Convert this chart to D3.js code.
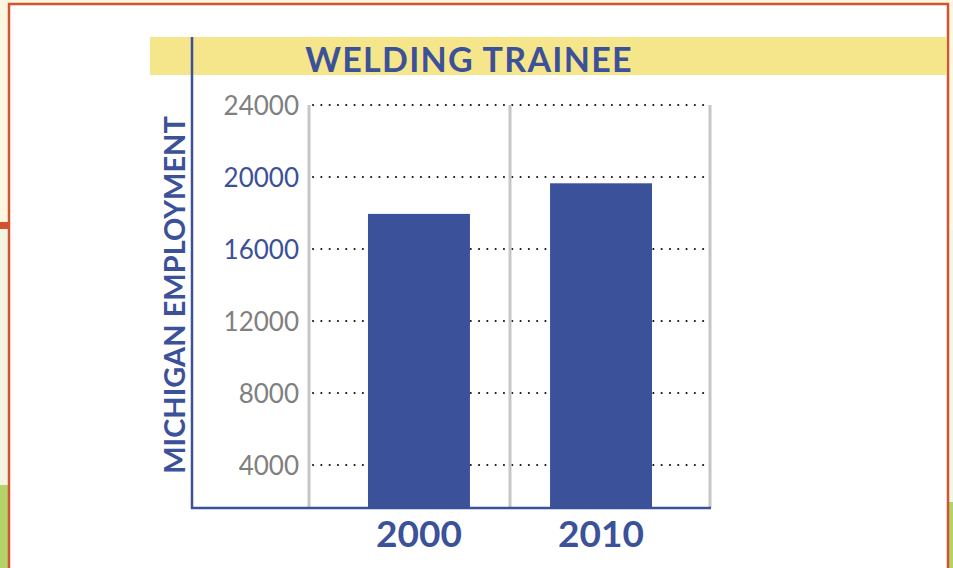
<!DOCTYPE html>
<html>
<head>
<meta charset="utf-8">
<script src="https://cdn.jsdelivr.net/npm/d3@7"></script>
<style>
  body { margin: 0; background: #fdf6e0; }
  svg { display: block; font-family: Lato, 'Open Sans', sans-serif; }
</style>
</head>
<body>
<div id="chart"></div>
<script>
(function () {
    'use strict';

    // data
    const years = ['2000', '2010'];
    const employment = [17950, 19650];
    const tickValues = [4000, 8000, 12000, 16000, 20000, 24000];
    const blueTicks = [16000, 20000];
    const chartTitle = 'WELDING TRAINEE';
    const yTitle = 'MICHIGAN EMPLOYMENT';

    const W = 953, H = 568;
    const BLUE = '#3b5199';
    const axisY = 508;

    const svg = d3.select('#chart').append('svg')
        .attr('width', W).attr('height', H);

    // page decorations behind the frame
    svg.append('rect').attr('x', 0).attr('y', 0).attr('width', W).attr('height', H).attr('fill', '#fdf6e0');
    svg.append('rect').attr('x', 0).attr('y', 229).attr('width', 9).attr('height', 256).attr('fill', '#f2f5e2');
    svg.append('rect').attr('x', 0).attr('y', 485).attr('width', 9).attr('height', 83).attr('fill', '#b4d46a');
    svg.append('rect').attr('x', 0).attr('y', 222).attr('width', 9).attr('height', 7).attr('fill', '#d2532f');
    svg.append('rect').attr('x', 948).attr('y', 230).attr('width', 5).attr('height', 272).attr('fill', '#f3f5e4');
    svg.append('rect').attr('x', 948).attr('y', 502).attr('width', 5).attr('height', 66).attr('fill', '#b4d46a');

    // white card with red border
    svg.append('rect').attr('x', 9).attr('y', 4).attr('width', 939).attr('height', H)
        .attr('fill', '#fff').attr('stroke', '#d2532f').attr('stroke-width', 2.5);

    // title band
    svg.append('rect').attr('x', 150).attr('y', 37).attr('width', 797).attr('height', 38).attr('fill', '#f5e68b');
    svg.append('text').attr('x', 469).attr('y', 72).attr('text-anchor', 'middle')
        .attr('fill', BLUE).style('font-size', '34px').style('font-weight', 700)
        .style('letter-spacing', '1.3px').text(chartTitle);

    const xScale = d3.scaleBand().domain(years).range([309, 711])
        .paddingInner(0.44).paddingOuter(0.324);
    const yScale = d3.scaleLinear().domain([0, 24000]).range([537, 105]);

    const gridTop = yScale(24000);

    // horizontal dotted grid
    svg.append('g').selectAll('line').data(tickValues).join('line')
        .attr('x1', 313).attr('x2', 708)
        .attr('y1', d => yScale(d)).attr('y2', d => yScale(d))
        .attr('stroke', '#111').attr('stroke-width', 2)
        .attr('stroke-linecap', 'round')
        .attr('stroke-dasharray', '0.1,8.2');

    // gray vertical separators
    const step = xScale.step();
    const sepX = [xScale.range()[0], xScale(years[0]) + xScale.bandwidth() + (step - xScale.bandwidth()) / 2, xScale.range()[1] - 1];
    svg.append('g').selectAll('line').data(sepX).join('line')
        .attr('x1', d => d).attr('x2', d => d)
        .attr('y1', gridTop).attr('y2', axisY)
        .attr('stroke', '#c6c6c6').attr('stroke-width', 3);

    // bars
    svg.append('g').selectAll('rect').data(employment).join('rect')
        .attr('x', (d, i) => xScale(years[i]))
        .attr('y', d => yScale(d))
        .attr('width', xScale.bandwidth())
        .attr('height', d => axisY - yScale(d))
        .attr('fill', BLUE);

    // tick labels
    const yAxis = d3.axisLeft(yScale).tickValues(tickValues).tickFormat(d3.format('d'))
        .tickSize(0).tickPadding(0);
    const yg = svg.append('g').attr('transform', 'translate(299,0)').call(yAxis);
    yg.select('.domain').remove();
    yg.selectAll('text')
        .attr('dy', '0.36em')
        .style('font-family', 'Lato, sans-serif')
        .style('font-size', '26px')
        .attr('fill', d => blueTicks.includes(d) ? BLUE : '#808080');

    const xAxis = d3.axisBottom(xScale).tickSize(0).tickPadding(0);
    const xg = svg.append('g').attr('transform', 'translate(0,' + axisY + ')').call(xAxis);
    xg.select('.domain').remove();
    xg.selectAll('text')
        .attr('y', 39).attr('dy', 0)
        .style('font-family', 'Lato, sans-serif')
        .style('font-size', '37px').style('font-weight', 700)
        .attr('fill', BLUE);

    // axis lines
    svg.append('line').attr('x1', 192).attr('x2', 192).attr('y1', 37).attr('y2', axisY + 1)
        .attr('stroke', BLUE).attr('stroke-width', 2.5);
    svg.append('line').attr('x1', 191).attr('x2', 711).attr('y1', axisY).attr('y2', axisY)
        .attr('stroke', BLUE).attr('stroke-width', 2.5);

    // y title
    svg.append('text').attr('transform', 'translate(185,295) rotate(-90)')
        .attr('text-anchor', 'middle').attr('fill', BLUE)
        .style('font-size', '29px').style('font-weight', 700)
        .text(yTitle);
}());
</script>
</body>
</html>
